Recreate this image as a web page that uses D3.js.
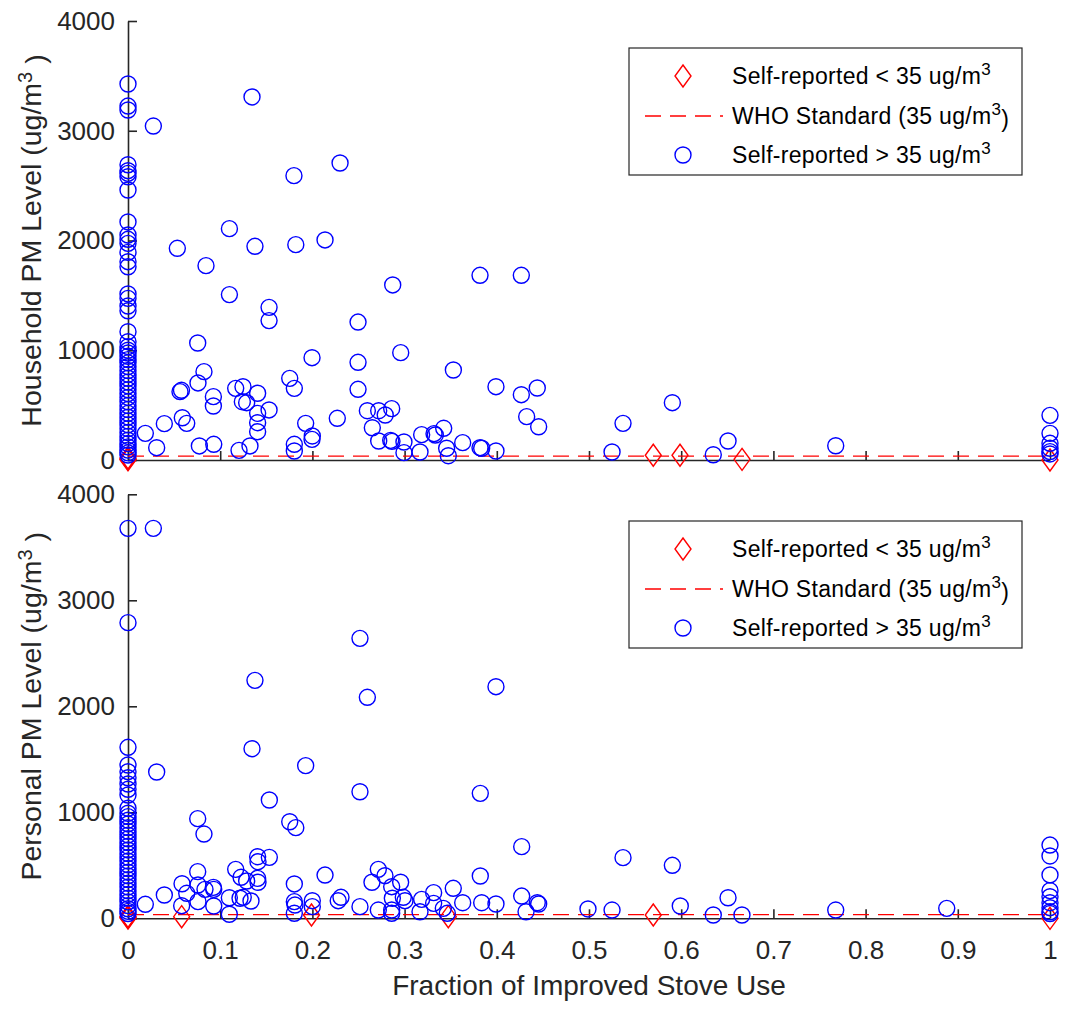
<!DOCTYPE html>
<html>
<head>
<meta charset="utf-8">
<script src="https://cdn.jsdelivr.net/npm/d3@7"></script>
<style>
  body { margin: 0; background: #fff; }
  svg { font-family: "Liberation Sans", Arial, sans-serif; }
</style>
</head>
<body>
<div id="chart"></div>
<script>
// ---- data ----
const xTicks = [0, 0.1, 0.2, 0.3, 0.4, 0.5, 0.6, 0.7, 0.8, 0.9, 1];
const yTicks = [0, 1000, 2000, 3000, 4000];
const whoStandard = 35;

// household PM, improved stove fraction = 0 and = 1 columns
const houseZero = [3426, 3225, 3189, 2690, 2636, 2612, 2581, 2460, 2169, 2050, 2011, 1974, 1892, 1807, 1761,
  1513, 1473, 1403, 1360, 1169, 1078, 1033, 1000, 975, 945, 915, 885, 850, 815, 780, 745, 710, 675, 640,
  605, 570, 530, 495, 460, 425, 390, 355, 320, 285, 250, 215, 180, 150, 120, 90, 65, 45];
const houseOne = [407, 243, 152, 107, 76, 55];
// household PM, other stove fractions [fraction, level]
const houseOther = [
  [0.0275, 3043], [0.1345, 3308], [0.230, 2706], [0.180, 2591], [0.110, 2108], [0.0535, 1929], [0.1377, 1947],
  [0.182, 1962], [0.2137, 2005], [0.0846, 1771], [0.110, 1507], [0.153, 1391], [0.153, 1270], [0.0756, 1066],
  [0.1996, 932], [0.0824, 805], [0.0759, 702], [0.0564, 623], [0.058, 635], [0.1754, 744], [0.1804, 653],
  [0.1168, 653], [0.1247, 668], [0.1406, 608], [0.0926, 577], [0.0926, 492], [0.124, 531], [0.1287, 522],
  [0.1406, 425], [0.153, 456], [0.1406, 340], [0.1406, 258], [0.0589, 385], [0.0637, 334], [0.0394, 331],
  [0.0188, 243], [0.0311, 112], [0.0774, 128], [0.093, 143], [0.1204, 88], [0.1323, 128], [0.1927, 334],
  [0.1999, 219], [0.1996, 188], [0.1804, 143], [0.1804, 82], [0.227, 380],
  [0.2871, 1595], [0.3818, 1683], [0.4266, 1683], [0.2495, 1257], [0.2958, 978], [0.2495, 890], [0.3529, 820],
  [0.2495, 644], [0.3991, 668], [0.4266, 595], [0.4439, 656], [0.2596, 449], [0.2719, 449], [0.279, 410],
  [0.286, 468], [0.265, 294], [0.2719, 173], [0.2849, 179], [0.2863, 170], [0.2993, 164], [0.2993, 67],
  [0.3167, 73], [0.3185, 231], [0.3319, 240], [0.3333, 228], [0.3424, 289], [0.3456, 107], [0.3474, 39],
  [0.363, 158], [0.3818, 112], [0.3836, 107], [0.3991, 82], [0.4324, 395], [0.4454, 303],
  [0.6348, 48], [0.5904, 522], [0.5369, 334], [0.525, 73], [0.6508, 173], [0.7676, 130]
];
const houseLow = [[0, 2], [0, 10], [0, 18], [0.5697, 43], [0.5987, 43], [0.666, 6], [1, 0]];

// personal PM
const personZero = [3679, 2789, 1613, 1446, 1383, 1326, 1267, 1217, 1163, 1038, 991, 959, 925, 890, 855, 820,
  785, 750, 715, 680, 645, 610, 575, 540, 505, 470, 435, 400, 365, 330, 295, 260, 225, 190, 155, 120, 90, 65, 45];
const personOne = [691, 588, 409, 261, 204, 147, 100, 62, 45];
const personOther = [
  [0.0275, 3679], [0.0311, 1380], [0.1377, 2245], [0.1345, 1600], [0.1927, 1440], [0.1533, 1116], [0.0756, 940],
  [0.0824, 795], [0.1754, 911], [0.182, 855], [0.1406, 581], [0.141, 534], [0.1533, 575], [0.0756, 440],
  [0.1168, 462], [0.1226, 387], [0.1287, 352], [0.1406, 377], [0.141, 340], [0.2137, 408], [0.1804, 324],
  [0.0586, 326], [0.0637, 236], [0.0394, 220], [0.0188, 132], [0.0759, 314], [0.0835, 273], [0.0926, 292],
  [0.093, 273], [0.0582, 119], [0.0759, 157], [0.093, 116], [0.1099, 194], [0.1215, 189], [0.125, 198],
  [0.1334, 163], [0.1099, 38], [0.1804, 157], [0.1811, 125], [0.1804, 47], [0.1999, 166], [0.1999, 110],
  [0.228, 166], [0.231, 198],
  [0.2516, 2641], [0.2596, 2085], [0.3991, 2185], [0.2516, 1194], [0.3821, 1179], [0.427, 676], [0.5369, 572],
  [0.5904, 500], [0.2715, 462], [0.2787, 402], [0.2646, 340], [0.286, 298], [0.2957, 340], [0.3821, 399],
  [0.3528, 283], [0.3315, 242], [0.2516, 110], [0.2715, 78], [0.2867, 189], [0.2986, 198], [0.3004, 166],
  [0.286, 78], [0.286, 47], [0.3185, 179], [0.3167, 62], [0.3315, 141], [0.342, 94], [0.3463, 47],
  [0.363, 147], [0.3836, 147], [0.3991, 135], [0.427, 210], [0.4317, 62], [0.4439, 147], [0.4454, 135],
  [0.4989, 88], [0.525, 78], [0.599, 116], [0.6348, 31],
  [0.6508, 194], [0.6659, 31], [0.7676, 78], [0.888, 94]
];
const personLow = [[0, 2], [0, 10], [0, 18], [0.0582, 15], [0.199, 31], [0.3474, 15], [0.5697, 31], [1, 0]];

const legendLabels = ["Self-reported < 35 ug/m", "WHO Standard (35 ug/m", "Self-reported > 35 ug/m"];

// ---- drawing ----
const width = 1068, height = 1021;
const ink = "#262626";
const diamondPath = "M0,-11L8,0L0,11L-8,0Z";

const svg = d3.select("#chart").append("svg")
    .attr("width", width)
    .attr("height", height);

const x = d3.scaleLinear().domain([0, 1]).range([128, 1050]);

function toPoints(zero, one, other) {
    let pts = zero.map(v => [0, v]);
    pts = pts.concat(other);
    pts = pts.concat(one.map(v => [1, v]));
    return pts;
}

function drawPanel(p) {
    let y = d3.scaleLinear().domain([0, 4000]).range([p.bottom, p.top]);
    let g = svg.append("g");

    // axes
    let xAxis = d3.axisBottom(x)
        .tickValues(xTicks)
        .tickSizeInner(-9)
        .tickSizeOuter(0)
        .tickPadding(22)
        .tickFormat(p.xLabels ? (d => d) : "");
    let yAxis = d3.axisLeft(y)
        .tickValues(yTicks)
        .tickSizeInner(-9)
        .tickSizeOuter(0)
        .tickPadding(13)
        .tickFormat(d3.format("d"));

    let gx = g.append("g")
        .attr("transform", "translate(0," + p.bottom + ")")
        .call(xAxis);
    let gy = g.append("g")
        .attr("transform", "translate(128,0)")
        .call(yAxis);

    [gx, gy].forEach(a => {
        a.select(".domain").attr("stroke", ink).attr("stroke-width", 1.6);
        a.selectAll(".tick line").attr("stroke", ink).attr("stroke-width", 1.6);
        a.selectAll(".tick text")
            .attr("fill", ink)
            .style("font-size", "26px")
            .style("font-family", "'Liberation Sans', Arial, sans-serif");
    });

    // self-reported < 35 (diamonds)
    g.selectAll("path.low")
        .data(p.low)
        .enter()
        .append("path")
        .attr("class", "low")
        .attr("d", diamondPath)
        .attr("transform", d => "translate(" + x(d[0]) + "," + y(d[1]) + ")")
        .attr("fill", "none")
        .attr("stroke", "#ff0000")
        .attr("stroke-width", 1.4);

    // WHO standard
    g.append("line")
        .attr("x1", x(0))
        .attr("x2", x(1))
        .attr("y1", y(whoStandard))
        .attr("y2", y(whoStandard))
        .attr("stroke", "#ff0000")
        .attr("stroke-width", 1.4)
        .style("stroke-dasharray", "16,9");

    // self-reported > 35 (circles)
    g.selectAll("circle.high")
        .data(p.high)
        .enter()
        .append("circle")
        .attr("class", "high")
        .attr("cx", d => x(d[0]))
        .attr("cy", d => y(d[1]))
        .attr("r", 8)
        .attr("fill", "none")
        .attr("stroke", "#0000ff")
        .attr("stroke-width", 1.4);

    // y label
    let yl = g.append("text")
        .attr("transform", "translate(41," + ((p.top + p.bottom) / 2) + ") rotate(-90)")
        .attr("text-anchor", "middle")
        .attr("fill", ink)
        .style("font-size", "28.5px");
    yl.append("tspan").text(p.yLabel + " (ug/m");
    yl.append("tspan").attr("dy", "-0.45em").style("font-size", "20px").text("3");
    yl.append("tspan").attr("dy", "0.45em").text(" )");

    // legend
    let lg = g.append("g").attr("transform", "translate(629," + p.legendTop + ")");
    lg.append("rect")
        .attr("width", 393)
        .attr("height", 127)
        .attr("fill", "#fff")
        .attr("stroke", ink)
        .attr("stroke-width", 1.2);
    let rows = [28, 68, 107];
    lg.append("path")
        .attr("d", diamondPath)
        .attr("transform", "translate(54," + rows[0] + ")")
        .attr("fill", "none")
        .attr("stroke", "#ff0000")
        .attr("stroke-width", 1.4);
    lg.append("line")
        .attr("x1", 16).attr("x2", 94)
        .attr("y1", rows[1]).attr("y2", rows[1])
        .attr("stroke", "#ff0000")
        .attr("stroke-width", 1.4)
        .style("stroke-dasharray", "16,9");
    lg.append("circle")
        .attr("cx", 54).attr("cy", rows[2]).attr("r", 8)
        .attr("fill", "none")
        .attr("stroke", "#0000ff")
        .attr("stroke-width", 1.4);
    legendLabels.forEach((lab, i) => {
        let t = lg.append("text")
            .attr("x", 103)
            .attr("y", rows[i] + 8)
            .attr("fill", "#000")
            .style("font-size", "23px")
            .style("letter-spacing", "0.3px");
        t.append("tspan").text(lab);
        t.append("tspan").attr("dy", "-0.55em").style("font-size", "17px").text("3");
        if (i === 1) t.append("tspan").attr("dy", "0.55em").text(")");
    });
}

drawPanel({
    top: 21, bottom: 460, legendTop: 48,
    high: toPoints(houseZero, houseOne, houseOther),
    low: houseLow,
    xLabels: false,
    yLabel: "Household PM Level"
});

drawPanel({
    top: 494.3, bottom: 918.3, legendTop: 521,
    high: toPoints(personZero, personOne, personOther),
    low: personLow,
    xLabels: true,
    yLabel: "Personal PM Level"
});

svg.append("text")
    .attr("x", 589)
    .attr("y", 995)
    .attr("text-anchor", "middle")
    .attr("fill", ink)
    .style("font-size", "28px")
    .text("Fraction of Improved Stove Use");
</script>
</body>
</html>
